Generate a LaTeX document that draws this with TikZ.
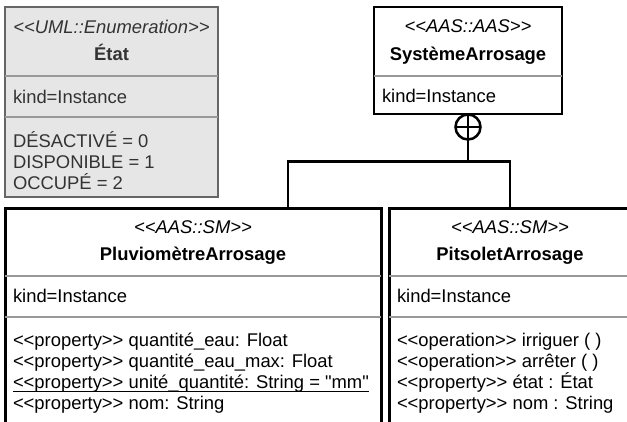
\documentclass[tikz,border=0pt]{standalone}
\usepackage{fontspec}
\setmainfont{Liberation Sans}[Ligatures=TeXOff]
\definecolor{enumfill}{HTML}{E6E6E6}
\definecolor{enumedge}{HTML}{666666}
\definecolor{enumtext}{HTML}{333333}
\definecolor{sepgray}{HTML}{999999}
\tikzset{
  txt/.style={inner sep=0pt, outer sep=0pt, font=\fontsize{18.4}{21}\selectfont},
  lft/.style={txt, anchor=base west},
  ctr/.style={txt, anchor=base},
  stereo/.style={ctr, font=\fontsize{18.4}{21}\selectfont\itshape},
  ttl/.style={ctr, font=\fontsize{18.4}{21}\selectfont\bfseries},
  classbox/.style={draw=black, line width=3pt, fill=white, inner sep=0pt, outer sep=0pt, anchor=north west},
  enumbox/.style={draw=enumedge, line width=2pt, fill=enumfill, inner sep=0pt, outer sep=0pt, anchor=north west},
  sepline/.style={draw=sepgray, line width=1.6pt},
  conn/.style={draw=black, line width=2.6pt},
}
\begin{document}
\begin{tikzpicture}[x=1pt, y=-1pt]
\path[use as bounding box, clip] (0,0) rectangle (627,421);

% ---- enumeration État ----
\node[enumbox, minimum width=213pt, minimum height=190pt] (etat) at (5,7) {};
\draw[sepline] (etat.west |- 0,76) -- (etat.east |- 0,76);
\draw[sepline] (etat.west |- 0,117) -- (etat.east |- 0,117);
\begin{scope}[every node/.append style={text=enumtext}]
\node[stereo] (etatSt) at (111.5,33) {<<UML::Enumeration>>};
\node[ttl] (etatNm) at (111.5,60) {État};
\node[lft] (etatKd) at (13,103) {kind=Instance};
\node[lft] (etatV1) at (13,147) {DÉSACTIVÉ = 0};
\node[lft] (etatV2) at (13,168) {DISPONIBLE = 1};
\node[lft] (etatV3) at (13,189) {OCCUPÉ = 2};
\end{scope}

% ---- SystèmeArrosage ----
\node[classbox, line width=2.6pt, minimum width=188pt, minimum height=107pt] (sys) at (374,7) {};
\draw[sepline] (sys.west |- 0,76) -- (sys.east |- 0,76);
\node[stereo] (sysSt) at (468,32) {<<AAS::AAS>>};
\node[ttl] (sysNm) at (468,60) {SystèmeArrosage};
\node[lft] (sysKd) at (382,102) {kind=Instance};

% ---- PluviomètreArrosage ----
\node[classbox, minimum width=376pt, minimum height=240pt] (pluv) at (5,208) {};
\draw[sepline] (pluv.west |- 0,276) -- (pluv.east |- 0,276);
\draw[sepline] (pluv.west |- 0,317) -- (pluv.east |- 0,317);
\node[stereo] (pluvSt) at (193,233) {<<AAS::SM>>};
\node[ttl] (pluvNm) at (193,260) {PluviomètreArrosage};
\node[lft] (pluvKd) at (13,302) {kind=Instance};
\node[lft] (pluvP1) at (13,346) {<<property>> quantité\_eau: Float};
\node[lft] (pluvP2) at (13,367) {<<property>> quantité\_eau\_max: Float};
\node[lft] (pluvP3) at (13,388) {<<property>> unité\_quantité: String = "mm"};
\node[lft] (pluvP4) at (13,409) {<<property>> nom: String};
\draw[black, line width=1.3pt] ([yshift=-3.6pt]pluvP3.base west) -- ([yshift=-3.6pt]pluvP3.base east);

% ---- PitsoletArrosage ----
\node[classbox, minimum width=242pt, minimum height=240pt] (pit) at (389,208) {};
\draw[sepline] (pit.west |- 0,276) -- (pit.east |- 0,276);
\draw[sepline] (pit.west |- 0,317) -- (pit.east |- 0,317);
\node[stereo] (pitSt) at (510,233) {<<AAS::SM>>};
\node[ttl] (pitNm) at (510,260) {PitsoletArrosage};
\node[lft] (pitKd) at (397,302) {kind=Instance};
\node[lft] (pitP1) at (397,346) {<<operation>> irriguer ( )};
\node[lft] (pitP2) at (397,367) {<<operation>> arrêter ( )};
\node[lft] (pitP3) at (397,388) {<<property>> état : État};
\node[lft] (pitP4) at (397,409) {<<property>> nom : String};

% ---- nesting connector ----
\node[circle, draw=black, line width=2.5pt, minimum size=25pt, inner sep=0pt, outer sep=0pt] (nest) at (468,127) {};
\draw[black, line width=2.5pt] (nest.north) -- (nest.south) (nest.west) -- (nest.east);
\coordinate (junc) at (468,161.5);
\coordinate (pluvIn) at (288,208);
\draw[conn] (nest.south) -- (junc);
\draw[conn] (junc) -| (pluvIn);
\draw[conn] (junc) -| (pit.north);
\end{tikzpicture}
\end{document}
